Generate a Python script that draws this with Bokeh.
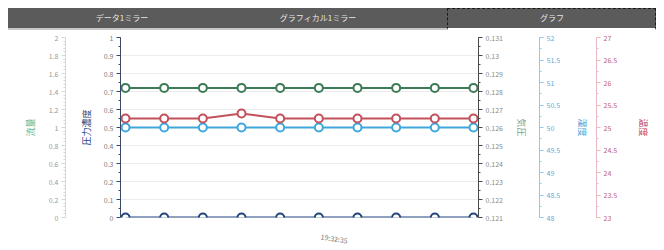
from bokeh.plotting import figure
from bokeh.models import (LinearAxis, Range1d, FixedTicker, SingleIntervalTicker,
                          ColumnDataSource, Div)
from bokeh.layouts import column
from bokeh.embed import file_html
from bokeh.resources import INLINE

# ---------------- data ----------------
tab_labels = ["データ1ミラー", "グラフィカル1ミラー", "グラフ"]
points = list(range(10))
flow_rate = [1.44, 1.44, 1.44, 1.44, 1.44, 1.44, 1.44, 1.44, 1.44, 1.44]      # green, left outer axis
ph_density = [0.0, 0.0, 0.0, 0.0, 0.0, 0.0, 0.0, 0.0, 0.0, 0.0]              # navy, left inner axis
humidity = [50.0, 50.0, 50.0, 50.0, 50.0, 50.0, 50.0, 50.0, 50.0, 50.0]      # light blue
temperature = [25.2, 25.2, 25.2, 25.31, 25.2, 25.2, 25.2, 25.2, 25.2, 25.2]  # red
time_tick_pos = [5.05]
time_tick_labels = ["19:32:35"]

axis_titles = {"flow": "流量", "ph": "圧力濃度", "aux": "気圧", "hum": "湿度", "temp": "温度"}

FONT = "Noto Sans CJK JP"
GREEN = "#3b7b55"
RED = "#c4505c"
BLUE = "#3fa7dc"
NAVY = "#22457e"

W = 648

# ---------------- tab bar (HTML) ----------------
tab_centers = [114, 310, 544]
spans = "".join(
    f'<span style="position:absolute;left:{c}px;top:0;height:20px;line-height:20px;'
    f'transform:translateX(-50%);white-space:nowrap;">{t}</span>'
    for c, t in zip(tab_centers, tab_labels)
)
tab_html = (
    f'<div style="position:relative;width:{W}px;height:22px;background:#5b5b5b;'
    f'font-family:\'{FONT}\';font-size:8px;color:#e6e6e6;box-sizing:border-box;'
    f'border-bottom:2px solid #c8c8c8;">'
    f'<div style="position:absolute;left:439px;top:0;width:209px;height:22px;box-sizing:border-box;'
    f'border:1px dashed #1a1a1a;border-bottom:2px solid #ffffff;"></div>'
    f'{spans}</div>'
)
tabs = Div(text=tab_html, width=W, height=22, margin=(8, 0, 0, 8))

# ---------------- chart ----------------
p = figure(frame_width=358, frame_height=180, x_range=Range1d(-0.13, 9.13), y_range=Range1d(0, 1),
           toolbar_location=None, output_backend="svg",
           min_border_left=112, min_border_right=178, min_border_top=7, min_border_bottom=20,
           outline_line_color=None, margin=(0, 0, 0, 8))

p.extra_y_ranges = {
    "flow": Range1d(0, 2),
    "aux": Range1d(0.121, 0.131),
    "hum": Range1d(48, 52),
    "temp": Range1d(23, 27),
}


def style_axis(ax, label_color, line_color, title, title_color, standoff):
    ax.axis_label = title
    ax.axis_label_text_color = title_color
    ax.axis_label_text_font = FONT
    ax.axis_label_text_font_size = "9px"
    ax.axis_label_text_font_style = "normal"
    ax.axis_label_standoff = standoff
    ax.major_label_text_font = FONT
    ax.major_label_text_font_size = "7px"
    ax.major_label_text_color = label_color
    ax.major_label_standoff = 3
    ax.axis_line_color = line_color
    ax.major_tick_line_color = line_color
    ax.minor_tick_line_color = line_color
    ax.major_tick_out = 4
    ax.major_tick_in = 0
    ax.minor_tick_out = 2
    ax.minor_tick_in = 0


def spacer(width):
    # an empty axis whose only (invisible) tick reserves `width` pixels
    return LinearAxis(ticker=FixedTicker(ticks=[0.5], minor_ticks=[]), axis_line_color=None,
                      major_tick_out=width, major_tick_in=0, minor_tick_out=0,
                      major_tick_line_alpha=0, major_label_standoff=0,
                      major_label_overrides={0.5: ""}, major_label_text_font_size="0px")


# inner left axis (0..1)
yax = p.yaxis[0]
yax.ticker = SingleIntervalTicker(interval=0.1, num_minor_ticks=2)
style_axis(yax, "#7a7a7a", "#3a4a66", axis_titles["ph"], NAVY, 8)

p.add_layout(spacer(11), "left")

flow_ax = LinearAxis(y_range_name="flow", ticker=SingleIntervalTicker(interval=0.2, num_minor_ticks=5))
style_axis(flow_ax, "#9a9a9a", "#d6d6d6", axis_titles["flow"], "#5cb27e", 9)
p.add_layout(flow_ax, "left")

aux_ax = LinearAxis(y_range_name="aux", ticker=SingleIntervalTicker(interval=0.001, num_minor_ticks=2))
style_axis(aux_ax, "#8a8a8a", "#4a4a4a", axis_titles["aux"], "#7f9f88", 9)
p.add_layout(aux_ax, "right")

p.add_layout(spacer(9), "right")

hum_ax = LinearAxis(y_range_name="hum", ticker=SingleIntervalTicker(interval=0.5, num_minor_ticks=2))
style_axis(hum_ax, "#5aaedc", "#8ccbec", axis_titles["hum"], "#3f9fd6", 13)
p.add_layout(hum_ax, "right")

p.add_layout(spacer(4), "right")

temp_ax = LinearAxis(y_range_name="temp", ticker=SingleIntervalTicker(interval=0.5, num_minor_ticks=2))
style_axis(temp_ax, "#c0607a", "#e8b8c4", axis_titles["temp"], "#c0405e", 17)
p.add_layout(temp_ax, "right")

# x axis
xax = p.xaxis[0]
xax.ticker = FixedTicker(ticks=time_tick_pos)
xax.major_label_overrides = {time_tick_pos[0]: time_tick_labels[0]}
xax.major_label_orientation = -0.15
xax.major_label_text_font = FONT
xax.major_label_text_font_size = "7px"
xax.major_label_text_color = "#777777"
xax.major_label_standoff = 19
xax.major_tick_out = 0
xax.major_tick_in = 0
xax.minor_tick_out = 0
xax.minor_tick_in = 0
xax.axis_line_color = None
xax.major_tick_line_color = None
xax.minor_tick_line_color = None

p.xgrid.visible = False
p.ygrid.grid_line_color = "#ececec"

src = ColumnDataSource(dict(x=points, flow=flow_rate, ph=ph_density, hum=humidity, temp=temperature))

series = [("flow", "flow", GREEN), ("hum", "hum", BLUE), ("temp", "temp", RED), ("ph", "default", NAVY)]
for col, rng, color in series:
    p.line("x", col, source=src, y_range_name=rng, line_color=color, line_width=2)
    p.scatter("x", col, source=src, y_range_name=rng, size=8, marker="circle",
              fill_color="white", line_color=color, line_width=2)

layout = column(tabs, p, spacing=0)
open("out.html", "w").write(file_html(layout, INLINE))
